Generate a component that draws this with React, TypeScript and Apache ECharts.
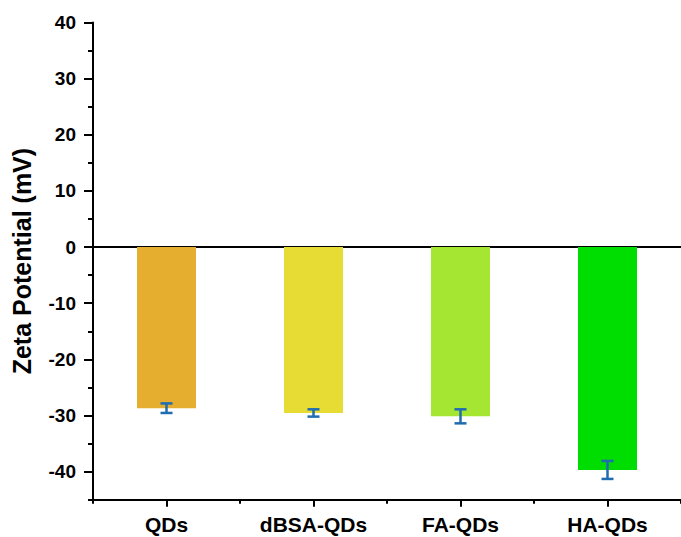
import React, { useEffect, useRef } from "react";
import * as echarts from "echarts";

const categories = ["QDs", "dBSA-QDs", "FA-QDs", "HA-QDs"];
const zetaMeans = [-28.7, -29.55, -30.15, -39.7];
const zetaErrors = [0.85, 0.65, 1.25, 1.6];
const barColors = ["#E5AE2E", "#E6DC33", "#A4E632", "#00DD00"];
const yLabelTicks = { min: -40, max: 40, step: 10 };
const yAxisExtent = { min: -45, max: 40, step: 5 };

const FONT = "'Liberation Sans', Arial, Helvetica, sans-serif";
const ERR_COLOR = "#1F6CB0";

export default function App() {
  const ref = useRef<HTMLDivElement>(null);

  useEffect(() => {
    if (!ref.current) return;
    const chart = echarts.init(ref.current, null, { renderer: "svg" });

    const errData = categories.map((_, i) => [
      i,
      zetaMeans[i] - zetaErrors[i],
      zetaMeans[i] + zetaErrors[i],
    ]);

    const axisLineStyle = { color: "#000", width: 2 };

    chart.setOption({
      animation: false,
      backgroundColor: "#fff",
      grid: [
        { left: 93, top: 22.5, width: 597, height: 449.1 },
        { left: 93, top: 22.5, width: 597, height: 477.2 },
      ],
      xAxis: [
        {
          gridIndex: 0,
          type: "category",
          data: categories,
          axisLine: { show: true, onZero: true, lineStyle: axisLineStyle },
          axisTick: { show: false },
          axisLabel: { show: false },
          splitLine: { show: false },
        },
        {
          gridIndex: 1,
          type: "category",
          data: categories,
          position: "bottom",
          axisLine: { show: true, onZero: false, lineStyle: axisLineStyle },
          axisTick: {
            show: true,
            alignWithLabel: true,
            length: 7,
            lineStyle: { color: "#000", width: 2 },
          },
          axisLabel: {
            color: "#000",
            fontFamily: FONT,
            fontWeight: "bold",
            fontSize: 21,
            margin: 14,
          },
          splitLine: { show: false },
        },
        {
          gridIndex: 1,
          type: "category",
          data: categories,
          position: "bottom",
          axisLine: { show: false, onZero: false },
          axisTick: {
            show: true,
            alignWithLabel: false,
            length: 4,
            lineStyle: { color: "#000", width: 2 },
          },
          axisLabel: { show: false },
          splitLine: { show: false },
        },
      ],
      yAxis: [
        {
          gridIndex: 0,
          type: "value",
          min: yLabelTicks.min,
          max: yLabelTicks.max,
          interval: yLabelTicks.step,
          axisLine: { show: false },
          axisTick: {
            show: true,
            length: 9,
            lineStyle: { color: "#000", width: 2 },
          },
          axisLabel: {
            color: "#000",
            fontFamily: FONT,
            fontWeight: "bold",
            fontSize: 19,
            margin: 17,
          },
          splitLine: { show: false },
        },
        {
          gridIndex: 1,
          type: "value",
          min: yAxisExtent.min,
          max: yAxisExtent.max,
          interval: yAxisExtent.step,
          name: "Zeta Potential (mV)",
          nameLocation: "middle",
          nameRotate: 90,
          nameGap: 59,
          nameTextStyle: {
            color: "#000",
            fontFamily: FONT,
            fontWeight: "bold",
            fontSize: 25,
          },
          axisLine: { show: true, onZero: false, lineStyle: axisLineStyle },
          axisTick: {
            show: true,
            length: 5,
            lineStyle: { color: "#000", width: 2 },
          },
          axisLabel: { show: false },
          splitLine: { show: false },
        },
      ],
      series: [
        {
          type: "bar",
          xAxisIndex: 1,
          yAxisIndex: 1,
          barWidth: 59,
          data: zetaMeans.map((v, i) => ({
            value: v,
            itemStyle: { color: barColors[i] },
          })),
          z: 2,
        },
        {
          type: "custom",
          xAxisIndex: 1,
          yAxisIndex: 1,
          data: errData,
          encode: { x: 0, y: [1, 2] },
          z: 5,
          renderItem: (params: any, api: any) => {
            const x = api.value(0);
            const lo = api.coord([x, api.value(1)]);
            const hi = api.coord([x, api.value(2)]);
            const hw = 6;
            const style = { stroke: ERR_COLOR, lineWidth: 2.5 };
            return {
              type: "group",
              children: [
                {
                  type: "line",
                  shape: { x1: hi[0], y1: hi[1], x2: lo[0], y2: lo[1] },
                  style,
                },
                {
                  type: "line",
                  shape: { x1: hi[0] - hw, y1: hi[1], x2: hi[0] + hw, y2: hi[1] },
                  style,
                },
                {
                  type: "line",
                  shape: { x1: lo[0] - hw, y1: lo[1], x2: lo[0] + hw, y2: lo[1] },
                  style,
                },
              ],
            };
          },
        },
      ],
    });

    return () => chart.dispose();
  }, []);

  return (
    <div
      ref={ref}
      style={{ position: "fixed", left: 0, top: 0, width: 681, height: 537 }}
    />
  );
}
